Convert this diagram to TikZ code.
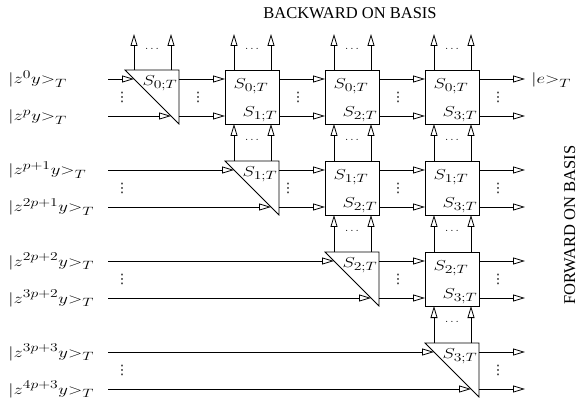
\documentclass[tikz,border=0pt]{standalone}
\usepackage{fontspec}
\setmainfont{Liberation Serif}
\newfontfamily\dvsans{DejaVu Sans}
\usepackage{graphicx}
\usetikzlibrary{arrows.meta}
\newcommand{\wlab}[1]{\scalebox{1.3}[1]{$#1$}}
\newcommand{\smt}[1]{\mbox{\fontsize{13}{15}\selectfont$#1$}}
\begin{document}
\begin{tikzpicture}[x=1pt,y=-1pt,line width=0.8pt,
  arr/.style={-{Triangle[open,length=12pt,width=7pt]}},
  blk/.style={draw,minimum width=54pt,minimum height=54pt,inner sep=0pt,anchor=north west},
  lab/.style={font=\fontsize{15}{18}\selectfont,inner sep=0pt},
  vd/.style={font=\dvsans\fontsize{13}{15}\selectfont,inner sep=0pt},
  hd/.style={font=\fontsize{12}{14}\selectfont,inner sep=0pt},
  ttl/.style={font=\fontsize{16.5}{19}\selectfont,inner sep=0pt}]
\useasboundingbox (0,0) rectangle (578,403);
\node[ttl] (title) at (350,13) {BACKWARD ON BASIS};
\node[ttl,rotate=90,anchor=base] (fwd) at (575,225) {FORWARD ON BASIS};
% blocks
\foreach \r in {0,...,3}{
  \pgfmathsetmacro\T{70+91*\r}
  \pgfmathsetmacro\Ta{\T+9}
  \pgfmathsetmacro\Tb{\T+46}
  \pgfmathsetmacro\Tc{\T+54}
  \foreach \c in {\r,...,3}{
    \pgfmathsetmacro\L{125+100*\c}
    \pgfmathsetmacro\La{\L+9}
    \pgfmathsetmacro\Lb{\L+46}
    \pgfmathsetmacro\Lc{\L+54}
    \coordinate (p\r\c o1) at (\Lc,\Ta);
    \coordinate (p\r\c o2) at (\Lc,\Tb);
    \coordinate (p\r\c t1) at (\La,\T);
    \coordinate (p\r\c t2) at (\Lb,\T);
    \ifnum\c=\r
      \draw (\L,\T) -- (\Lc,\T) -- (\Lc,\Tc) -- cycle;
      \coordinate (p\r\c i1) at (\La,\Ta);
      \coordinate (p\r\c i2) at (\Lb,\Tb);
      \node[lab] (s\r\c) at (\L+35,\T+13) {\wlab{S_{\smt{\r{;}T}}}};
      \pgfmathsetmacro\dx{\r==1 ? 63 : 73}
    \else
      \node[blk] (b\r\c) at (\L,\T) {};
      \coordinate (p\r\c i1) at (\L,\Ta);
      \coordinate (p\r\c i2) at (\L,\Tb);
      \coordinate (p\r\c d1) at (\La,\Tc);
      \coordinate (p\r\c d2) at (\Lb,\Tc);
      \node[lab] (sa\r\c) at (\L+26,\T+16) {\wlab{S_{\smt{\r{;}T}}}};
      \node[lab] (sb\r\c) at (\L+35,\T+44) {\wlab{S_{\smt{\c{;}T}}}};
      \pgfmathsetmacro\dx{73}
    \fi
    \node[vd] (vd\r\c) at (\L+\dx,\T+27) {⋮};
  }
}
% left labels and inputs
\foreach \r/\a/\b in {0/0/p,1/p{+}1/2p{+}1,2/2p{+}2/3p{+}2,3/3p{+}3/4p{+}3}{
  \pgfmathsetmacro\T{70+91*\r}
  \node[lab,anchor=base west] (la\r) at (8,\T+14) {\wlab{|z^{\smt{\a}}y{>}_{\smt{T}}}};
  \node[lab,anchor=base west] (lb\r) at (8,\T+51) {\wlab{|z^{\smt{\b}}y{>}_{\smt{T}}}};
  \node[vd] (lv\r) at (122,\T+27) {⋮};
  \coordinate (s\r a) at (108,\T+9);
  \coordinate (s\r b) at (108,\T+46);
  \coordinate (e\r a) at (525,\T+9);
  \coordinate (e\r b) at (525,\T+46);
  \draw[arr] (s\r a) -- (p\r\r i1);
  \draw[arr] (s\r b) -- (p\r\r i2);
  \draw[arr] (p\r3o1) -- (e\r a);
  \draw[arr] (p\r3o2) -- (e\r b);
}
% horizontal links between blocks
\foreach \r/\c/\n in {0/0/1,0/1/2,0/2/3,1/1/2,1/2/3,2/2/3}{
  \draw[arr] (p\r\c o1) -- (p\r\n i1);
  \draw[arr] (p\r\c o2) -- (p\r\n i2);
}
% top outputs
\foreach \c in {0,...,3}{
  \pgfmathsetmacro\L{125+100*\c}
  \coordinate (u\c a) at (\L+9,34);
  \coordinate (u\c b) at (\L+46,34);
  \draw[arr] (p0\c t1) -- (u\c a);
  \draw[arr] (p0\c t2) -- (u\c b);
  \node[hd] (ud\c) at (\L+27,49) {$\ldots$};
}
% vertical links between rows
\foreach \r/\n/\c in {0/1/1,0/1/2,0/1/3,1/2/2,1/2/3,2/3/3}{
  \pgfmathsetmacro\L{125+100*\c}
  \pgfmathsetmacro\T{70+91*\r}
  \draw[arr] (p\n\c t1) -- (p\r\c d1);
  \draw[arr] (p\n\c t2) -- (p\r\c d2);
  \node[hd] (md\r\c) at (\L+27,\T+70) {$\ldots$};
}
\node[lab,anchor=base west] (eout) at (531,84) {\wlab{|e{>}_{\smt{T}}}};
\end{tikzpicture}
\end{document}
